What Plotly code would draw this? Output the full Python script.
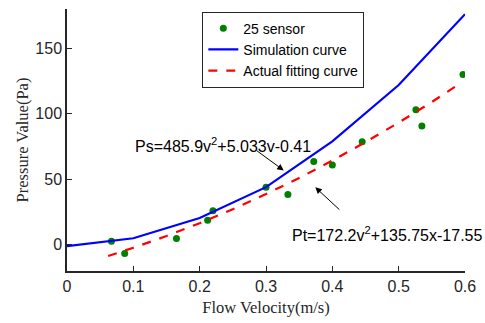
import plotly.graph_objects as go

# Sensor measurements
sensor_v = [0.067, 0.087, 0.165, 0.212, 0.220, 0.300, 0.333, 0.372, 0.400, 0.445, 0.526, 0.535, 0.597]
sensor_p = [2.8, -6.6, 4.8, 18.7, 26.0, 44.0, 38.4, 63.6, 61.0, 78.6, 103.0, 90.7, 130.0]

# Simulation curve
sim_v = [0.0, 0.1, 0.2, 0.3, 0.4, 0.5, 0.6]
sim_p = [-1.0, 5.0, 20.5, 44.0, 79.0, 122.0, 176.0]

# Actual fitting curve
fit_v = [0.062, 0.1, 0.15, 0.2, 0.25, 0.3, 0.35, 0.4, 0.45, 0.5, 0.55, 0.595]
fit_p = [-8.5, -2.3, 6.7, 16.5, 27.1, 38.7, 51.0, 64.3, 78.4, 93.3, 109.0, 124.0]

xticks = [0, 0.1, 0.2, 0.3, 0.4, 0.5, 0.6]
xticklabels = ["0", "0.1", "0.2", "0.3", "0.4", "0.5", "0.6"]
yticks = [0, 50, 100, 150]
yticklabels = ["0", "50", "100", "150"]

fig = go.Figure()
fig.add_trace(go.Scatter(x=sensor_v, y=sensor_p, mode="markers", name="25 sensor",
                         marker=dict(color="#008000", size=7)))
fig.add_trace(go.Scatter(x=sim_v, y=sim_p, mode="lines", name="Simulation curve",
                         line=dict(color="#0000ff", width=2.2)))
fig.add_trace(go.Scatter(x=fit_v, y=fit_p, mode="lines", name="Actual fitting curve",
                         line=dict(color="#ff0000", width=2.2, dash="dash")))

fig.add_annotation(x=0.3267, y=56.8, ax=0.2837, ay=72.7, xref="x", yref="y", axref="x", ayref="y",
                   text="", showarrow=True, arrowhead=2, arrowsize=1.3, arrowwidth=1, arrowcolor="#000")
fig.add_annotation(x=0.2354, y=76.5, xref="x", yref="y", showarrow=False,
                   text="Ps=485.9v<sup>2</sup>+5.033v-0.41",
                   font=dict(family="Liberation Sans, Arial", size=16, color="#000"))
fig.add_annotation(x=0.3743, y=43.9, ax=0.4129, ay=25.8, xref="x", yref="y", axref="x", ayref="y",
                   text="", showarrow=True, arrowhead=2, arrowsize=1.3, arrowwidth=1, arrowcolor="#000")
fig.add_annotation(x=0.482, y=8.3, xref="x", yref="y", showarrow=False,
                   text="Pt=172.2v<sup>2</sup>+135.75x-17.55",
                   font=dict(family="Liberation Sans, Arial", size=16, color="#000"))

fig.update_layout(
    width=485, height=323,
    margin=dict(l=67, r=14, t=9, b=51),
    paper_bgcolor="white", plot_bgcolor="white",
    font=dict(family="Liberation Sans, Arial", size=16, color="#262626"),
    showlegend=True,
    legend=dict(x=0.34, y=0.99, xanchor="left", yanchor="top",
                bordercolor="#262626", borderwidth=1, bgcolor="white",
                font=dict(family="Liberation Sans, Arial", size=14, color="#000"),
                tracegroupgap=0, itemwidth=30),
)
fig.update_xaxes(range=[0, 0.6], tickvals=xticks, ticktext=xticklabels,
                 showgrid=False, zeroline=False, showline=True, linecolor="#262626", linewidth=1.5,
                 ticks="inside", ticklen=5, tickcolor="#262626",
                 title=dict(text="Flow Velocity(m/s)", font=dict(family="Liberation Serif, Times New Roman", size=16.5, color="#262626"), standoff=7),
                 tickfont=dict(size=16))
fig.update_yaxes(range=[-20, 180], tickvals=yticks, ticktext=yticklabels,
                 showgrid=False, zeroline=False, showline=True, linecolor="#262626", linewidth=1.5,
                 ticks="inside", ticklen=5, tickcolor="#262626",
                 title=dict(text="Pressure Value(Pa)", font=dict(family="Liberation Serif, Times New Roman", size=16.5, color="#262626"), standoff=3),
                 tickfont=dict(size=16))

fig.write_html("out.html")
